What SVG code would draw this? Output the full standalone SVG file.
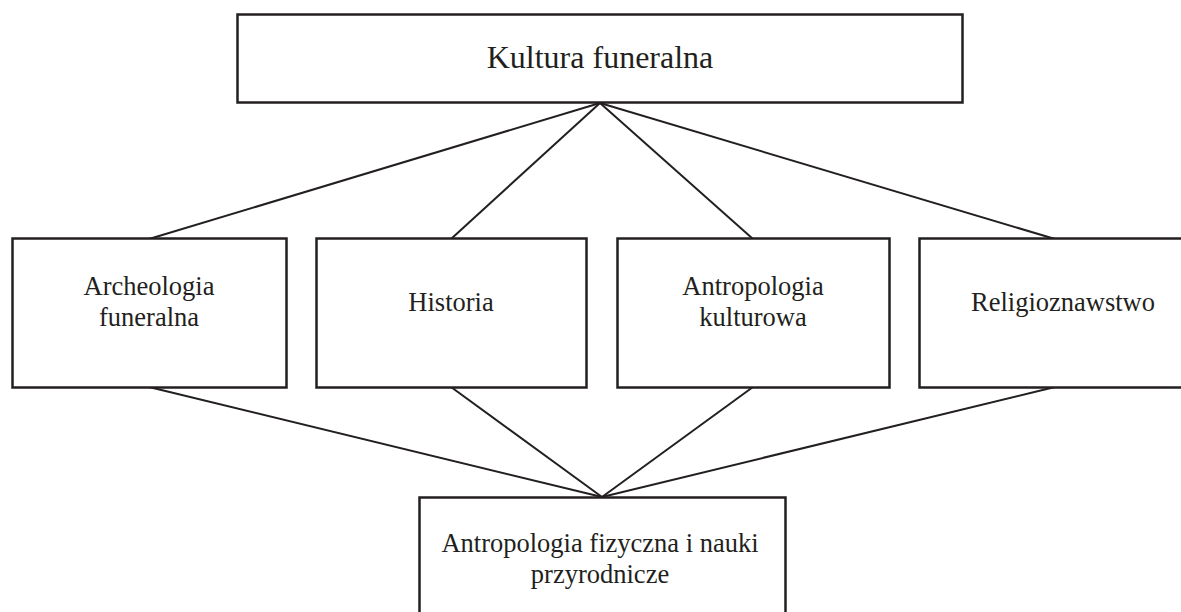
<svg xmlns="http://www.w3.org/2000/svg" width="1181" height="612" viewBox="0 0 1181 612">
<style>
.box{fill:#fff;stroke:#231f20;stroke-width:2.5}
.lbl{font-family:"Liberation Serif","DejaVu Serif",serif;fill:#231f20;text-anchor:middle}
.t1{font-size:32px}
.t2{font-size:26.5px}
.con line{stroke:#231f20;stroke-width:2}
</style>
<rect width="1181" height="612" fill="#fff"/>
<g id="connectors" class="con">
<line x1="600" y1="103" x2="149" y2="239"/>
<line x1="600" y1="103" x2="451" y2="239"/>
<line x1="600" y1="103" x2="753" y2="239"/>
<line x1="600" y1="103" x2="1055" y2="239"/>
<line x1="149" y1="387" x2="602" y2="497"/>
<line x1="451" y1="387" x2="602" y2="497"/>
<line x1="753" y1="387" x2="602" y2="497"/>
<line x1="1055" y1="387" x2="602" y2="497"/>
</g>
<g id="kultura">
<rect class="box" x="237.5" y="14.5" width="725" height="88"/>
<text class="lbl t1" x="600" y="68">Kultura funeralna</text>
</g>
<g id="archeologia">
<rect class="box" x="12.5" y="238.5" width="274" height="149"/>
<text class="lbl t2" x="149" y="295">Archeologia</text>
<text class="lbl t2" x="149" y="326">funeralna</text>
</g>
<g id="historia">
<rect class="box" x="316.5" y="238.5" width="270" height="149"/>
<text class="lbl t2" x="451" y="311">Historia</text>
</g>
<g id="antropologia-kulturowa">
<rect class="box" x="617.5" y="238.5" width="272" height="149"/>
<text class="lbl t2" x="753" y="295">Antropologia</text>
<text class="lbl t2" x="753" y="326">kulturowa</text>
</g>
<g id="religioznawstwo">
<rect class="box" x="919.5" y="238.5" width="270" height="149"/>
<text class="lbl t2" x="1063" y="311">Religioznawstwo</text>
</g>
<g id="antropologia-fizyczna">
<rect class="box" x="419.5" y="497.5" width="366" height="130"/>
<text class="lbl t2" x="600" y="552">Antropologia fizyczna i nauki</text>
<text class="lbl t2" x="600" y="583">przyrodnicze</text>
</g>
</svg>
